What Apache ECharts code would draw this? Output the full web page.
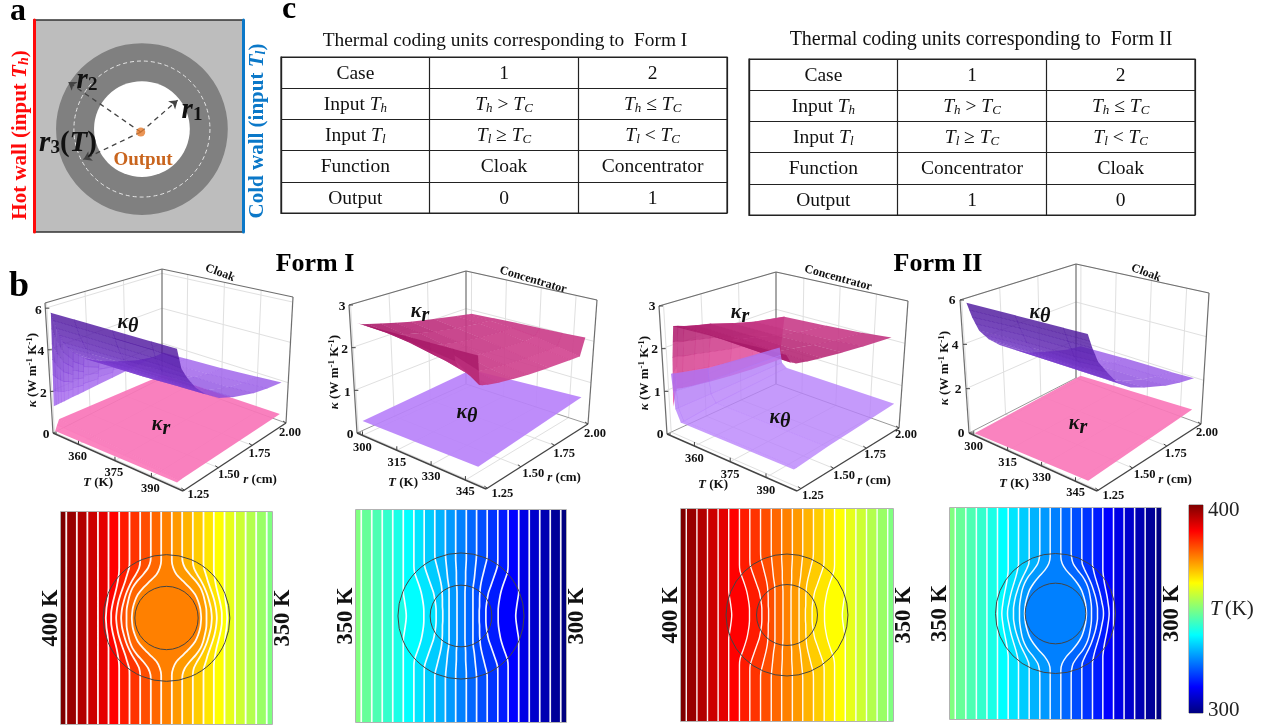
<!doctype html>
<html><head><meta charset="utf-8">
<style>html,body{margin:0;background:#fff}#c{width:1269px;height:726px;filter:blur(0.55px)}</style>
<script src="https://cdn.jsdelivr.net/npm/echarts@6/dist/echarts.min.js"></script>
</head><body><div id="c"></div>
<script>
const SERIF='"Liberation Serif"';
/* ---------- panel c tables ---------- */
const tableColumns=['label','1','2'];
const tableRowsI=[
 ['Case','1','2'],
 ['Input {i|T}{s|h}','{i|T}{s|h}{n| > }{i|T}{s|C}','{i|T}{s|h}{n| ≤ }{i|T}{s|C}'],
 ['Input {i|T}{s|l}','{i|T}{s|l}{n| ≥ }{i|T}{s|C}','{i|T}{s|l}{n| < }{i|T}{s|C}'],
 ['Function','Cloak','Concentrator'],
 ['Output','0','1']];
const tableRowsII=[
 ['Case','1','2'],
 ['Input {i|T}{s|h}','{i|T}{s|h}{n| > }{i|T}{s|C}','{i|T}{s|h}{n| ≤ }{i|T}{s|C}'],
 ['Input {i|T}{s|l}','{i|T}{s|l}{n| ≥ }{i|T}{s|C}','{i|T}{s|l}{n| < }{i|T}{s|C}'],
 ['Function','Concentrator','Cloak'],
 ['Output','1','0']];
/* ---------- panel a ---------- */
const ringRadii=[2.26,1.26];
const dashedRadius=1.79;
const centerDot=[-0.03,-0.08];
const arrowTips=[[0.94,0.76],[-1.94,1.24],[-1.54,-0.8]];
/* ---------- panel b, surfaces ---------- */
const rTicks=[1.25,1.5,1.75,2];
const tTicksHot=[360,375,390];
const tTicksCold=[300,315,330,345];
const kTicks6=[0,2,4,6];
const kTicks3=[0,1,2,3];

const rCloak=[1.25,1.28,1.32,1.38,1.45,1.55,1.65,1.8,1.9,2.0];
const tCloakHot=[350,351,360,375,390,400];
const kThetaCloakHot=[
 [1.30,1.30,1.30,1.32,1.33,1.36,1.38,1.42,1.45,1.47],
 [5.80,5.00,4.20,3.55,3.05,2.60,2.25,1.80,1.60,1.47],
 [5.80,5.00,4.25,3.60,3.10,2.65,2.30,1.85,1.65,1.55],
 [5.80,5.00,4.30,3.70,3.15,2.70,2.40,1.95,1.75,1.65],
 [5.80,5.00,4.35,3.75,3.25,2.75,2.45,2.05,1.90,1.80],
 [5.80,4.90,4.40,3.80,3.30,2.80,2.50,2.15,2.00,1.90]];
const rLipHot=[1.25,1.28,2.0];
const tFlatHot=[350,400];
const kRadialCloakHot=[[0.10,0.55,0.20],[0.20,0.22,0.32]];

const rConcCold=[1.25,1.26,1.28,1.32,1.4,1.5,1.6,1.75,1.9,1.97,2.0];
const tConcCold=[300,310,320,330,340,350];
const kRadialConcCold=[
 [2.60,2.58,2.54,2.50,2.42,2.32,2.22,2.10,1.98,1.92,1.90],
 [2.60,2.55,2.50,2.42,2.32,2.23,2.14,2.03,1.94,1.92,1.93],
 [2.60,2.50,2.42,2.33,2.22,2.12,2.04,1.95,1.88,1.88,1.96],
 [2.60,2.42,2.30,2.20,2.10,2.00,1.92,1.85,1.80,1.82,1.98],
 [2.60,2.35,2.20,2.05,1.95,1.88,1.82,1.76,1.72,1.72,2.00],
 [2.60,2.00,1.97,1.93,1.87,1.81,1.76,1.70,1.65,1.63,2.03]];
const rFlat=[1.25,2.0];
const tFlatCold=[300,350];
const kThetaConcCold=[[0.32,0.42],[0.36,0.58]];

const rConcHot=[1.25,1.28,1.32,1.4,1.5,1.65,1.8,2.0];
const tConcHot=[350,351,352,370,385,397];
const kRadialConcHot=[
 [0.65,1.02,0.98,0.93,0.87,0.80,0.74,0.69],
 [1.80,1.80,1.75,1.70,1.62,1.50,1.42,1.30],
 [2.55,2.52,2.47,2.40,2.32,2.15,2.00,1.86],
 [2.57,2.50,2.44,2.37,2.30,2.15,2.03,1.92],
 [2.60,2.45,2.40,2.33,2.27,2.17,2.07,1.98],
 [2.60,2.42,2.35,2.30,2.25,2.18,2.12,2.05]];
const rThetaConcHot=[1.25,1.27,1.5,2.0];
const tThetaConcHot=[350,351,353,400];
const kThetaConcHot=[
 [1.40,1.38,1.20,1.00],
 [0.60,0.60,0.60,0.62],
 [0.33,0.33,0.42,0.52],
 [0.33,0.33,0.40,0.52]];

const tCloakCold=[300,320,340,350];
const kThetaCloakCold=[
 [5.90,5.20,4.50,3.95,3.50,3.00,2.55,2.15,1.90,1.75],
 [5.90,5.30,4.60,4.00,3.50,3.00,2.60,2.20,2.00,1.85],
 [5.90,5.30,4.60,4.00,3.50,3.00,2.65,2.25,2.05,1.90],
 [5.90,5.30,4.65,4.10,3.50,3.00,2.70,2.30,2.10,1.95]];
const kRadialCloakCold=[[0.05,0.20],[0.20,0.50]];

const purpleRamp=[[0,'#c08cff'],[1.5,'#a468ee'],[3,'#7f3fd6'],[4.5,'#5f25b4'],[6,'#4a1599']];
const pinkRamp=[[0,'#ff80c0'],[1,'#ec5ea8'],[2,'#c63a86'],[2.7,'#a01160']];

/* ---------- temperature maps ---------- */
const isoLevels=[190,170,150,130,110,90,70,50,30,15,0];
const isoStraight=[300.7,269,237.4,205.7];
const isoCloakHot=[
 [174,174,174,174,174,174,175,177,180,181,182],
 [142,142,142,143,146,150,155,160,164,166,166],
 [111,111,112,118,124,131,138,144,148,150,151],
 [79,79,82,92,104,114,122,128,133,135,136],
 [47,48,55,70,88,102,110,115,119,120,120],
 [16,16,20,30,50,70,86,95,101,103,104]];
const isoCloakCold=[
 [174,174,174,174,174,174,174,174,174,174,174],
 [142,142,142,142,144,147,151,155,158,160,161],
 [111,111,111,114,119,125,131,136,140,143,144],
 [79,79,80,88,98,107,114,120,124,126,126],
 [47,48,53,66,82,93,100,104,107,108,108],
 [16,16,20,32,50,66,78,85,90,92,93]];
const isoConc=[
 [174,174,174,174,174,174,174,171,168,166,165],
 [142,142,142,140,133,126,120,116,113,112,112],
 [111,111,110,104,97,90,83,79,76,75,75],
 [79,78,73,68,63,59,57,56,56,55,55],
 [47,46,44,42,40,37,36,36,36,36,36],
 [16,16,15,14,14,13,12,12,12,12,12]];
const bandTHot=[400,397.5,395,392.5,390,387.5,385,382.5,380,377.5,375,372.5,370,367.5,365,362.5,360,357.5,355,352.5,350];
const bandTCold=[350,347.5,345,342.5,340,337.5,335,332.5,330,327.5,325,322.5,320,317.5,315,312.5,310,307.5,305,302.5,300];
const colorbarTicks=[300,400];
const jetStops=[[300,'#00007f'],[312.5,'#0000ff'],[337.5,'#00ffff'],[362.5,'#ffff00'],[387.5,'#ff0000'],[400,'#7f0000']];

/* ---------- helpers ---------- */
function hex(c){return [1,3,5].map(i=>parseInt(c.substr(i,2),16));}
function ramp(st,v){
  if(v<=st[0][0])return st[0][1];
  for(let i=1;i<st.length;i++) if(v<=st[i][0]){
    const t=(v-st[i-1][0])/(st[i][0]-st[i-1][0]),a=hex(st[i-1][1]),b=hex(st[i][1]);
    return 'rgb('+a.map((x,k)=>Math.round(x+(b[k]-x)*t)).join(',')+')';
  }
  return st[st.length-1][1];
}
const grid=[],xAxis=[],yAxis=[],series=[];
function addGrid(g,x,y){g.outerBoundsMode='none';grid.push(g);const i=grid.length-1;x.gridIndex=i;xAxis.push(x);
  (Array.isArray(y)?y:[y]).forEach(a=>{a.gridIndex=i;yAxis.push(a);});
  return {xAxisIndex:xAxis.length-1,yAxisIndex:yAxis.length-(Array.isArray(y)?y.length:1)};}

/* ---------- tables ---------- */
const cellRich={i:{fontStyle:'italic',fontSize:19.5,fontFamily:SERIF,fill:'#111'},
  s:{fontStyle:'italic',fontSize:13,fontFamily:SERIF,padding:[7,0,0,0],fill:'#111'},
  n:{fontSize:19.5,fontFamily:SERIF,fill:'#111'}};
function addTable(rows,left,top){
  const line={show:true,lineStyle:{color:'#222',width:1.2}};
  const ax=addGrid({left,top,width:446,height:156,show:true,borderColor:'#222',borderWidth:1.2,containLabel:false},
   {type:'category',data:tableColumns,axisLine:line,axisTick:{show:false},axisLabel:{show:false},splitLine:line},
   {type:'category',inverse:true,data:rows.map(r=>r[0]),axisLine:line,axisTick:{show:false},axisLabel:{show:false},splitLine:line});
  const cells=[];rows.forEach((r,j)=>r.forEach((t,i)=>cells.push([i,j,t])));
  series.push(Object.assign({type:'custom',data:cells.map(c=>[c[0],c[1]]),encode:{x:0,y:1},animation:false,silent:true,
    renderItem:(p,api)=>{const c=cells[p.dataIndex],q=api.coord([c[0],c[1]]);
      return {type:'text',x:q[0],y:q[1]+1,style:{text:c[2],font:'19.5px '+SERIF,fill:'#111',align:'center',verticalAlign:'middle',rich:cellRich}};}},ax));
}
addTable(tableRowsI,281,57);
addTable(tableRowsII,749,59);

/* ---------- panel a ---------- */
(function(){
 const ax=addGrid({left:34,top:20,width:209,height:212,show:true,backgroundColor:'#bdbdbd',borderColor:'#333',borderWidth:1.5},
  {type:'value',min:-2.84,max:2.66,show:false},
  [{type:'value',min:-2.71,max:2.87,axisLabel:{show:false},axisTick:{show:false},splitLine:{show:false},axisLine:{show:true,onZero:false,lineStyle:{color:'#ff0a0a',width:3}}},
   {type:'value',min:-2.71,max:2.87,position:'right',axisLabel:{show:false},axisTick:{show:false},splitLine:{show:false},axisLine:{show:true,onZero:false,lineStyle:{color:'#0b78c8',width:3}}}]);
 series.push(Object.assign({type:'custom',data:ringRadii.map((r,i)=>[r,i]),animation:false,silent:true,encode:{x:0,y:1},z:2,
  renderItem:(p,api)=>{const o=api.coord([0,0]),r=api.size([api.value(0),0])[0];
    return {type:'circle',shape:{cx:o[0],cy:o[1],r},style:{fill:p.dataIndex?'#fff':'#808080'}};}},ax));
 series.push(Object.assign({type:'custom',data:[[dashedRadius,0]],animation:false,silent:true,encode:{x:0,y:1},z:3,
  renderItem:(p,api)=>{const o=api.coord([0,0]),r=api.size([api.value(0),0])[0];
    return {type:'circle',shape:{cx:o[0],cy:o[1],r},style:{fill:'none',stroke:'#e6e6e6',lineWidth:1,lineDash:[4,3]}};}},ax));
 series.push(Object.assign({type:'lines',coordinateSystem:'cartesian2d',z:4,silent:true,animation:false,symbol:['none','arrow'],symbolSize:8,
  lineStyle:{color:'#444',width:1.3,type:[5,4],opacity:1},data:arrowTips.map(t=>({coords:[centerDot,t]}))},ax));
 series.push(Object.assign({type:'scatter',z:5,silent:true,animation:false,symbolSize:9,itemStyle:{color:'#e57a2c'},data:[centerDot]},ax));
})();

/* ---------- panel b, 3-D boxes drawn through a page-sized hidden grid ---------- */
const pageAxes=addGrid({left:0,top:0,width:1269,height:726},
  {type:'value',min:0,max:1269,show:false},{type:'value',min:0,max:726,inverse:true,show:false});
function makeBox(o){
 o.project=function(T,r,k){
  const u=(T-o.T[0])/(o.T[1]-o.T[0]),v=(r-o.r[0])/(o.r[1]-o.r[0]),w=k/o.k;
  const mix=(a,b,c,d,i)=>(1-u)*(1-v)*a[i]+u*(1-v)*b[i]+u*v*c[i]+(1-u)*v*d[i];
  const f=i=>(1-w)*mix(o.A,o.B,o.C,o.D,i)+w*mix(o.At,o.Bt,o.Ct,o.Dt,i);
  return [f(0),f(1)];};
 return o;
}
const boxes=[
 makeBox({A:[53,433],B:[183,491],C:[286,423],D:[162,378],At:[45,303],Bt:[183,341],Ct:[293,297],Dt:[162,269],
  T:[349.5,403],r:[1.24,2],k:6.25,tTicks:tTicksHot,kTicks:kTicks6,tOff:[-1,12],rOff:[[14,5],[4,10]],kOff:[-7,2],
  title:'Cloak',titlePos:[220,273],titleRot:-0.36,tName:[98,483],rName:[260,480],kName:[33,370],
  kLabels:[{sym:'θ',pos:[128,323]},{sym:'r',pos:[161,425]}]}),
 makeBox({A:[357,433],B:[486,489],C:[588,424],D:[466,384],At:[349,305],Bt:[486,339],Ct:[597,300],Dt:[466,271],
  T:[297.6,354],r:[1.24,2],k:3,tTicks:tTicksCold,kTicks:kTicks3,tOff:[0,12],rOff:[[15,6],[7,10]],kOff:[-7,2],
  title:'Concentrator',titlePos:[533,280],titleRot:-0.29,tName:[403,483],rName:[564,478],kName:[335,372],
  kLabels:[{sym:'r',pos:[420,312]},{sym:'θ',pos:[467,413]}]}),
 makeBox({A:[667,434],B:[797,491],C:[899,428],D:[776,384],At:[659,306],Bt:[797,341],Ct:[908,301],Dt:[776,272],
  T:[348.5,403],r:[1.22,2],k:3,tTicks:tTicksHot,kTicks:kTicks3,tOff:[0,13],rOff:[[12,7],[7,7]],kOff:[-7,1],
  title:'Concentrator',titlePos:[838,278],titleRot:-0.27,tName:[713,485],rName:[874,481],kName:[645,373],
  kLabels:[{sym:'r',pos:[740,313]},{sym:'θ',pos:[780,418]}]}),
 makeBox({A:[969,433],B:[1097,491],C:[1201,424],D:[1076,378],At:[960,300],Bt:[1097,335],Ct:[1209,293],Dt:[1076,264],
  T:[297.9,354.5],r:[1.24,2],k:6,tTicks:tTicksCold,kTicks:kTicks6,tOff:[0,12],rOff:[[15,6],[6,9]],kOff:[-8,1],
  title:'Cloak',titlePos:[1146,273],titleRot:-0.36,tName:[1014,484],rName:[1175,480],kName:[945,368],
  kLabels:[{sym:'θ',pos:[1040,313]},{sym:'r',pos:[1078,424]}]})];

function seg(p,q,stroke,w){return {type:'line',shape:{x1:p[0],y1:p[1],x2:q[0],y2:q[1]},style:{stroke,lineWidth:w}};}
const tickFont='bold 12.5px '+SERIF;
function txt(q,text,font,extra){return Object.assign({type:'text',x:q[0],y:q[1],style:{text,font:font||tickFont,fill:'#111',align:'center',verticalAlign:'middle'}},extra||{});}
const axisRich={i:{fontStyle:'italic',fontWeight:'bold',fontSize:13,fontFamily:SERIF},b:{fontWeight:'bold',fontSize:13,fontFamily:SERIF},
  u:{fontWeight:'bold',fontSize:9,fontFamily:SERIF,padding:[0,0,6,0]}};

function addFrame(b){
 series.push(Object.assign({type:'custom',data:[[0,0]],encode:{x:0,y:1},animation:false,silent:true,clip:false,z:2,
 renderItem:(p,api)=>{
  const P=(T,r,k)=>api.coord(b.project(T,r,k)),c=[];
  const T0=b.T[0],T1=b.T[1],r0=b.r[0],r1=b.r[1],K=b.k,gl='#e0e0e0';
  b.kTicks.forEach(k=>{if(k>0){c.push(seg(P(T0,r0,k),P(T0,r1,k),gl,1));c.push(seg(P(T0,r1,k),P(T1,r1,k),gl,1));}});
  rTicks.forEach(r=>{if(r<r1){c.push(seg(P(T0,r,0),P(T0,r,K),gl,1));c.push(seg(P(T0,r,0),P(T1,r,0),gl,1));}});
  b.tTicks.forEach(t=>{c.push(seg(P(t,r1,0),P(t,r1,K),gl,1));c.push(seg(P(t,r0,0),P(t,r1,0),gl,1));});
  const e='#6e6e6e',k='#444';
  c.push(seg(P(T0,r0,K),P(T0,r1,K),e,1.2),seg(P(T0,r1,K),P(T1,r1,K),e,1.2),
         seg(P(T0,r1,0),P(T0,r1,K),e,1.2),seg(P(T1,r1,0),P(T1,r1,K),e,1.2),seg(P(T0,r0,0),P(T0,r0,K),e,1.2),
         seg(P(T0,r0,0),P(T0,r1,0),'#999',1),seg(P(T0,r1,0),P(T1,r1,0),'#999',1),
         seg(P(T0,r0,0),P(T1,r0,0),k,1.4),seg(P(T1,r0,0),P(T1,r1,0),k,1.4));
  b.tTicks.forEach(t=>{const q=P(t,r0,0);c.push(seg(q,[q[0],q[1]-4],k,1));c.push(txt([q[0]+b.tOff[0],q[1]+b.tOff[1]],String(t)));});
  rTicks.forEach((r,i)=>{const q=P(T1,r,0),f=i/(rTicks.length-1),o=b.rOff;
    c.push(seg(q,[q[0]-3,q[1]-2],k,1));
    c.push(txt([q[0]+o[0][0]+(o[1][0]-o[0][0])*f,q[1]+o[0][1]+(o[1][1]-o[0][1])*f],r.toFixed(2)));});
  b.kTicks.forEach(v=>{const q=P(T0,r0,v);c.push(seg(q,[q[0]+4,q[1]],k,1));c.push(txt([q[0]+b.kOff[0],q[1]+b.kOff[1]],String(v),'bold 13.5px '+SERIF));});
  c.push({type:'text',x:b.tName[0],y:b.tName[1],style:{text:'{i|T} {b|(K)}',rich:axisRich,align:'center',verticalAlign:'middle',fill:'#111'}});
  c.push({type:'text',x:b.rName[0],y:b.rName[1],style:{text:'{i|r} {b|(cm)}',rich:axisRich,align:'center',verticalAlign:'middle',fill:'#111'}});
  c.push({type:'text',x:b.kName[0],y:b.kName[1],rotation:Math.PI/2,style:{text:'{i|κ} {b|(W m}{u|-1}{b| K}{u|-1}{b|)}',rich:axisRich,align:'center',verticalAlign:'middle',fill:'#111'}});
  c.push(txt(b.titlePos,b.title,'bold 12px '+SERIF,{rotation:b.titleRot}));
  return {type:'group',children:c};
 }},pageAxes));
}
function addSurface(b,Ts,Rs,K,colors,z,op){
 const quads=[];
 for(let j=0;j<Ts.length-1;j++)for(let i=0;i<Rs.length-1;i++){
  /* each read-off cell is shaded in small facets so its colour changes gradually */
  const k00=K[j][i],k10=K[j+1][i],k11=K[j+1][i+1],k01=K[j][i+1];
  const nT=Math.min(6,Math.ceil(Math.max(Math.abs(k10-k00),Math.abs(k11-k01))/0.45))||1;
  const nR=Math.min(6,Math.ceil(Math.max(Math.abs(k01-k00),Math.abs(k11-k10))/0.45))||1;
  for(let a=0;a<nT;a++)for(let c=0;c<nR;c++){
   const node=(f,g)=>{const s=(a+f)/nT,t=(c+g)/nR,
      T=Ts[j]+(Ts[j+1]-Ts[j])*s,R=Rs[i]+(Rs[i+1]-Rs[i])*t,
      v=k00*(1-s)*(1-t)+k10*s*(1-t)+k11*s*t+k01*(1-s)*t;
      return {T,R,v};};
   const n=[node(0,0),node(1,0),node(1,1),node(0,1)];
   const pts=n.map(q=>b.project(q.T,q.R,q.v));
   const mean=n.reduce((s,q)=>s+q.v,0)/4;
   const mT=n.reduce((s,q)=>s+q.T,0)/4,mR=n.reduce((s,q)=>s+q.R,0)/4;
   const d=(mT-b.T[0])/(b.T[1]-b.T[0])+1-(mR-b.r[0])/(b.r[1]-b.r[0]);
   quads.push({pts,color:ramp(colors,mean),d});
  }
 }
 quads.sort((a,c)=>a.d-c.d);
 const away=(p,q,g)=>{const dx=p[0]-q[0],dy=p[1]-q[1],l=Math.hypot(dx,dy)||1;return [dx/l*g,dy/l*g];};
 series.push(Object.assign({type:'custom',data:quads.map(()=>[0,0]),encode:{x:0,y:1},animation:false,silent:true,clip:false,z,progressive:0,
  renderItem:(p,api)=>{const q=quads[p.dataIndex];
   const pts=q.pts.map(a=>api.coord(a));
   const grow=pts.map((a,i)=>{const u=away(a,pts[(i+1)%4],0.28),w=away(a,pts[(i+3)%4],0.28);return [a[0]+u[0]+w[0],a[1]+u[1]+w[1]];});
   return {type:'polygon',shape:{points:grow},style:{fill:q.color,opacity:op}};}},pageAxes));
}
function addKLabels(b){
 const rich={k:{fontStyle:'italic',fontWeight:'bold',fontSize:20,fontFamily:SERIF},
   t:{fontStyle:'italic',fontWeight:'bold',fontSize:20,fontFamily:SERIF,padding:[8,0,0,0]}};
 series.push(Object.assign({type:'custom',data:[[0,0]],encode:{x:0,y:1},animation:false,silent:true,clip:false,z:9,
  renderItem:(p,api)=>({type:'group',children:b.kLabels.map(l=>{const q=api.coord(l.pos);
    return {type:'text',x:q[0],y:q[1],style:{text:'{k|κ}{t|'+l.sym+'}',rich,align:'center',verticalAlign:'middle',fill:'#111'}};})})},pageAxes));
}
boxes.forEach(addFrame);
addSurface(boxes[0],tFlatHot,rLipHot,kRadialCloakHot,pinkRamp,3,0.92);
addSurface(boxes[0],tCloakHot,rCloak,kThetaCloakHot,purpleRamp,4,0.82);
addSurface(boxes[1],tFlatCold,rFlat,kThetaConcCold,purpleRamp,3,0.92);
addSurface(boxes[1],tConcCold,rConcCold,kRadialConcCold,pinkRamp,4,0.92);
addSurface(boxes[2],tConcHot,rConcHot,kRadialConcHot,pinkRamp,3,0.9);
addSurface(boxes[2],tThetaConcHot,rThetaConcHot,kThetaConcHot,purpleRamp,4,0.8);
addSurface(boxes[3],tFlatCold,rFlat,kRadialCloakCold,pinkRamp,3,0.92);
addSurface(boxes[3],tCloakCold,rCloak,kThetaCloakCold,purpleRamp,4,0.82);
boxes.forEach(addKLabels);

/* ---------- temperature maps ---------- */
function buildIso(table){
 const side=(row)=>row.concat(row.slice(0,-1).reverse());
 const ys=[316.5].concat(isoLevels,isoLevels.slice(0,-1).reverse().map(v=>-v),[-316.5]);
 const expand=(row)=>{const s=side(row);return ys.map((y,k)=>{const o=k==0?s[0]:k==ys.length-1?s[s.length-1]:s[k-1];return [o,y];});};
 const half=isoStraight.map(x=>expand(isoLevels.map(()=>x))).concat(table.map(expand));
 const left=half.map(l=>l.map(p=>[-p[0],p[1]]));
 const right=half.slice().reverse();
 return {ys,lines:left.concat(right)};
}
const isoH=buildIso(isoCloakHot),isoC=buildIso(isoCloakCold),isoK=buildIso(isoConc);
function addMap(m){
 const nameStyle={fontFamily:SERIF,fontWeight:'bold',fontSize:22.5,color:'#111'};
 const axBase={type:'value',min:-316.5,max:316.5,axisLine:{show:false},axisTick:{show:false},axisLabel:{show:false},splitLine:{show:false}};
 const ax=addGrid({left:m.x,top:m.y,width:m.w,height:m.h,show:true,borderColor:'#999',borderWidth:1.5},
  Object.assign({},axBase,{show:false}),
  [Object.assign({},axBase,{position:'left',name:m.left,nameLocation:'middle',nameRotate:90,nameGap:-2,nameMoveOverlap:false,nameTextStyle:nameStyle}),
   Object.assign({},axBase,{position:'right',name:m.right,nameLocation:'middle',nameRotate:90,nameGap:0,nameMoveOverlap:false,nameTextStyle:nameStyle})]);
 const iso=m.iso,L=iso.lines;
 series.push(Object.assign({type:'custom',data:m.bands.map((t,i)=>[t,i]),encode:{x:1,y:0},animation:false,silent:true,clip:true,z:2,progressive:0,
  renderItem:(p,api)=>{const i=p.dataIndex;
   const a=i==0?iso.ys.map(y=>[-316.5,y]):L[i-1],b=i==L.length?iso.ys.map(y=>[316.5,y]):L[i];
   const pts=a.concat(b.slice().reverse()).map(q=>api.coord(q));
   const c=ramp(jetStops,m.bands[i]);
   return {type:'polygon',shape:{points:pts},style:{fill:c,stroke:c,lineWidth:0.8}};}},ax));
 const lineData=[];L.forEach(l=>{l.forEach(q=>lineData.push(q));lineData.push(['-','-']);});
 series.push(Object.assign({type:'line',data:lineData,showSymbol:false,symbol:'none',smooth:0.25,connectNulls:false,z:3,animation:false,silent:true,clip:true,
   lineStyle:{color:'#fff',width:m.lw,opacity:0.95}},ax));
 series.push(Object.assign({type:'custom',data:[[m.ro,0],[m.ri,0]],encode:{x:0,y:1},animation:false,silent:true,z:4,
  renderItem:(p,api)=>{const o=api.coord([0,0]),r=api.size([api.value(0),0])[0];
   return {type:'circle',shape:{cx:o[0],cy:o[1],r},style:{fill:'none',stroke:'#444',lineWidth:1}};}},ax));
}
addMap({x:61,y:512,w:211,h:212,left:'400 K',right:'350 K',iso:isoH,bands:bandTHot,ro:190,ri:95,lw:1.8});
addMap({x:356,y:510,w:210,h:212,left:'350 K',right:'300 K',iso:isoK,bands:bandTCold,ro:190,ri:93,lw:1.7});
addMap({x:681,y:509,w:212,h:212,left:'400 K',right:'350 K',iso:isoK,bands:bandTHot,ro:182,ri:91,lw:1.4});
addMap({x:950,y:508,w:211,h:211,left:'350 K',right:'300 K',iso:isoC,bands:bandTCold,ro:180,ri:91,lw:1.5});

/* ---------- colour bar ---------- */
(function(){
 const ax=addGrid({left:1189,top:505,width:14,height:208,show:true,borderColor:'#777',borderWidth:1},
  {type:'value',min:0,max:1,show:false},
  {type:'value',min:300,max:400,interval:100,position:'right',
   axisLine:{show:false},axisTick:{show:false},minorTick:{show:true,splitNumber:5,length:3,lineStyle:{color:'#555'}},splitLine:{show:false},
   axisLabel:{fontFamily:SERIF,fontSize:21,color:'#222',margin:5,
     formatter:v=>v==colorbarTicks[1]?'{a|'+v+'}':'{b|'+v+'}',
     rich:{a:{fontFamily:SERIF,fontSize:21,color:'#222',padding:[10,0,0,0]},b:{fontFamily:SERIF,fontSize:21,color:'#222',padding:[0,0,5,0]}}},
   name:'{i|T} {n|(K)}',nameLocation:'middle',nameRotate:0,nameGap:7,nameMoveOverlap:false,
   nameTextStyle:{rich:{i:{fontFamily:SERIF,fontStyle:'italic',fontSize:21,color:'#222'},n:{fontFamily:SERIF,fontSize:21,color:'#222'}}}});
 series.push(Object.assign({type:'custom',data:[[0,300]],encode:{x:0,y:1},animation:false,silent:true,z:2,
  renderItem:(p,api)=>{const a=api.coord([0,400]),b=api.coord([1,300]);
   const stops=jetStops.map(s=>({offset:(s[0]-300)/100,color:s[1]}));
   return {type:'rect',shape:{x:a[0],y:a[1],width:b[0]-a[0],height:b[1]-a[1]},style:{fill:new echarts.graphic.LinearGradient(0,1,0,0,stops)}};}},ax));
})();

/* ---------- annotations ---------- */
const tb=(x,y,text,font,fill,extra)=>Object.assign({type:'text',x,y,z:50,silent:true,style:Object.assign({text,font,fill,align:'center',verticalAlign:'middle'},extra&&extra.style||{})},extra&&extra.props||{});
const wallRich=c=>({i:{fontStyle:'italic',fontWeight:'bold',fontSize:21,fontFamily:SERIF,fill:c},s:{fontStyle:'italic',fontWeight:'bold',fontSize:14,fontFamily:SERIF,fill:c,padding:[6,0,0,0]}});
const mathRich={r:{fontStyle:'italic',fontWeight:'bold',fontSize:29,fontFamily:SERIF,fill:'#111'},s:{fontWeight:'bold',fontSize:19,fontFamily:SERIF,fill:'#111',padding:[9,0,0,0]},n:{fontWeight:'bold',fontSize:29,fontFamily:SERIF,fill:'#111'}};
const graphic=[
 tb(18,12,'a','bold 32px '+SERIF,'#000'),
 tb(19,287,'b','bold 36px '+SERIF,'#000'),
 tb(289,10,'c','bold 32px '+SERIF,'#000'),
 tb(315,264,'Form I','bold 26px '+SERIF,'#000'),
 tb(938,264,'Form II','bold 26px '+SERIF,'#000'),
 tb(505,41,'Thermal coding units corresponding to  Form I','19.4px '+SERIF,'#111'),
 tb(981,40,'Thermal coding units corresponding to  Form II','20px '+SERIF,'#111'),
 tb(21,135,'Hot wall (input {i|T}{s|h})','bold 21px '+SERIF,'#ff0a0a',{style:{rich:wallRich('#ff0a0a')},props:{rotation:Math.PI/2}}),
 tb(258,131,'Cold wall (input {i|T}{s|l})','bold 21px '+SERIF,'#0b78c8',{style:{rich:wallRich('#0b78c8')},props:{rotation:Math.PI/2}}),
 tb(143,160,'Output','bold 19px '+SERIF,'#c9651e'),
 tb(87,81,'{r|r}{s|2}','',"#111",{style:{rich:mathRich}}),
 tb(192,111,'{r|r}{s|1}','',"#111",{style:{rich:mathRich}}),
 tb(68,144,'{r|r}{s|3}{n|(}{r|T}{n|)}','',"#111",{style:{rich:mathRich}})
];
const chart=echarts.init(document.getElementById('c'),null,{renderer:'canvas'});
chart.setOption({animation:false,backgroundColor:'#fff',textStyle:{fontFamily:SERIF},grid,xAxis,yAxis,series,graphic});
</script></body></html>
